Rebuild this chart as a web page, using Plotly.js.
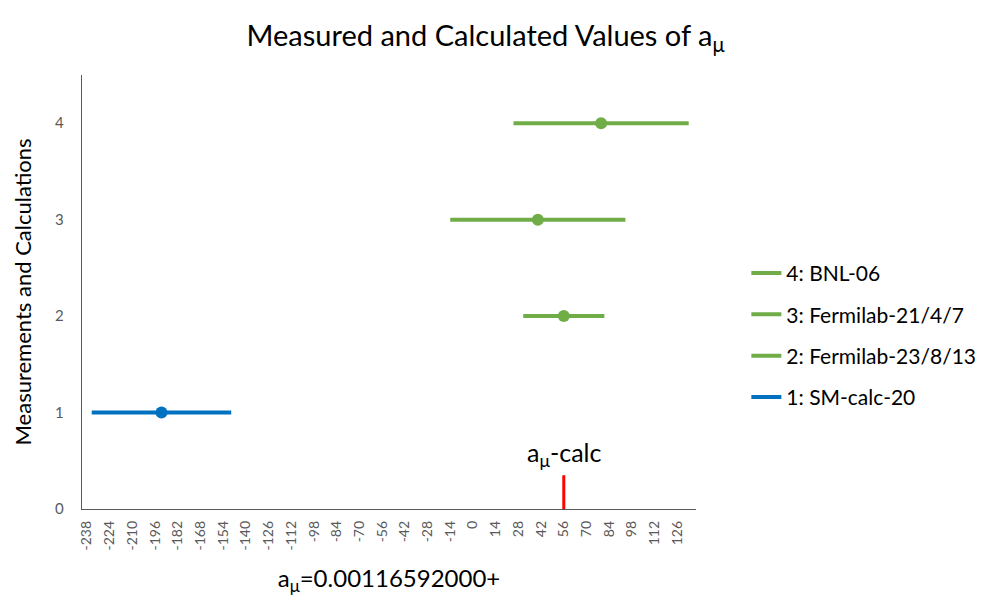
<!DOCTYPE html>
<html><head><meta charset="utf-8">
<script src="https://cdn.plot.ly/plotly-3.0.1.min.js"></script>
<style>html,body{margin:0;padding:0;background:#fff}#chart{width:993px;height:596px}</style>
</head><body><div id="chart"></div>
<script>
// Data (units of 1e-11 relative to 0.00116592000)
const names = ["1: SM-calc-20", "2: Fermilab-23/8/13", "3: Fermilab-21/4/7", "4: BNL-06"];
const yPos = [1, 2, 3, 4];
const centers = [-192, 56, 40, 79];
const errors = [43, 25, 54, 54];
const colors = ["#0070C0", "#70AD47", "#70AD47", "#70AD47"];
const calcValue = 56;
const calcHeight = 0.35;
const tickVals = [];
for (let v = -238; v <= 126; v += 14) tickVals.push(v);

const FONT = "Lato, 'Open Sans', sans-serif";
const traces = [];
for (let i = names.length - 1; i >= 0; i--) {
  traces.push({
    type: "scatter", mode: "lines", name: names[i], legendgroup: "g" + i,
    x: [centers[i] - errors[i], centers[i] + errors[i]], y: [yPos[i], yPos[i]],
    line: {color: colors[i], width: 4}, hoverinfo: "skip"
  });
  traces.push({
    type: "scatter", mode: "markers", name: names[i], legendgroup: "g" + i, showlegend: false,
    x: [centers[i]], y: [yPos[i]],
    marker: {color: colors[i], size: 12}
  });
}
traces.push({
  type: "scatter", mode: "lines", showlegend: false,
  x: [calcValue, calcValue], y: [0, calcHeight],
  line: {color: "#FF0000", width: 3}
});

const layout = {
  width: 993, height: 596,
  margin: {l: 82, r: 295, t: 75, b: 87},
  paper_bgcolor: "#fff", plot_bgcolor: "#fff",
  font: {family: FONT, color: "#000"},
  title: {text: "Measured and Calculated Values of a<sub>μ</sub>", font: {size: 29, family: FONT, color: "#000"},
          x: 0.489, xref: "container", xanchor: "center", y: 0.94, yanchor: "middle", automargin: false},
  xaxis: {
    range: [-241, 137.5], tickvals: tickVals, ticktext: tickVals.map(String), tickangle: -90,
    showgrid: false, zeroline: false, showline: true, linecolor: "#595959", linewidth: 1.3,
    ticks: "", ticklabelstandoff: 5, tickfont: {size: 14, color: "#595959", family: FONT}, automargin: false,
    title: {text: "a<sub>μ</sub>=0.00116592000+", font: {size: 24, color: "#000", family: FONT}, standoff: 20}
  },
  yaxis: {
    range: [0, 4.5], tickvals: [0, 1, 2, 3, 4], showgrid: false, zeroline: false,
    showline: true, linecolor: "#595959", linewidth: 1.3, ticks: "", ticklabelstandoff: 14, automargin: false,
    tickfont: {size: 15, color: "#595959", family: FONT},
    title: {text: "Measurements and Calculations", font: {size: 22, color: "#000", family: FONT}, standoff: 17}
  },
  legend: {
    x: 1.082, xanchor: "left", y: 0.40, yanchor: "middle", traceorder: "grouped",
    tracegroupgap: 11, font: {size: 21, color: "#000", family: FONT}, bgcolor: "rgba(0,0,0,0)"
  },
  annotations: [{
    x: calcValue, y: 0.57, xref: "x", yref: "y", showarrow: false,
    text: "a<sub>μ</sub>-calc", font: {size: 25, color: "#000", family: FONT}
  }],
  showlegend: true
};
Plotly.newPlot("chart", traces, layout, {displayModeBar: false, staticPlot: true});
</script></body></html>
